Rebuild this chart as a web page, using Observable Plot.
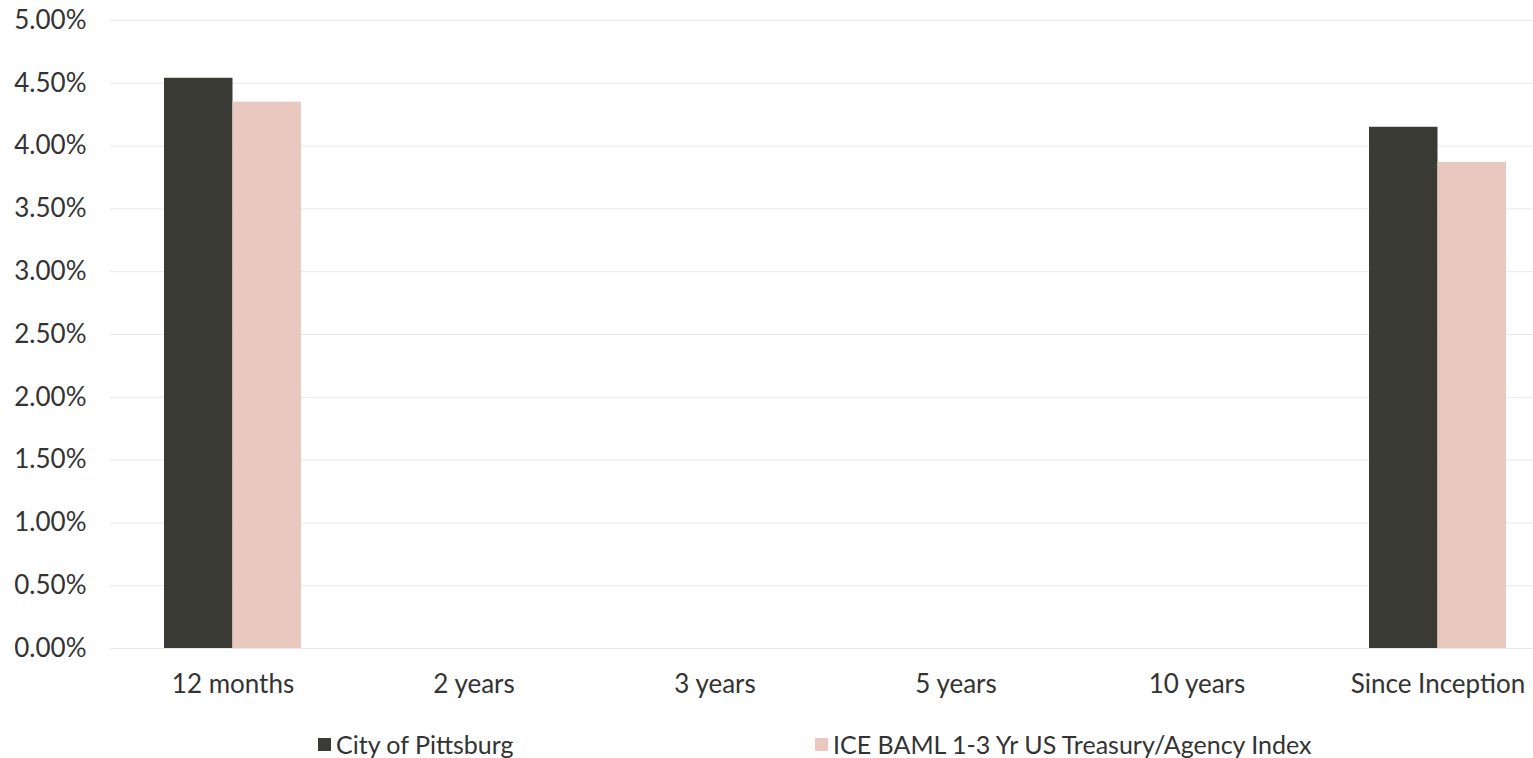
<!DOCTYPE html>
<html>
<head>
<meta charset="utf-8">
<script src="https://cdn.jsdelivr.net/npm/d3@7"></script>
<script src="https://cdn.jsdelivr.net/npm/@observablehq/plot@0.6"></script>
<style>
  html, body { margin: 0; padding: 0; background: #fff; }
  #wrap { width: 1533px; height: 758px; overflow: hidden; position: relative; font-family: Lato, "Noto Sans", sans-serif; }
  #chart { position: absolute; left: 0; top: 0; width: 1560px; }
  #chart svg { max-width: none !important; }
  #legend { position: absolute; top: 729px; left: 0; width: 1533px; font-size: 25px; color: #333; }
  .item { position: absolute; display: flex; align-items: center; white-space: nowrap; }
  .sw { width: 13px; height: 13px; margin-right: 5px; }
</style>
</head>
<body>
<div id="wrap">
  <div id="chart"></div>
  <div id="legend"></div>
</div>
<script>
const categories = ["12 months", "2 years", "3 years", "5 years", "10 years", "Since Inception"];
const seriesNames = ["City of Pittsburg", "ICE BAML 1-3 Yr US Treasury/Agency Index"];
const pittsburg = [4.54, null, null, null, null, 4.15];
const iceBaml = [4.35, null, null, null, null, 3.87];
const yTicks = [0, 0.5, 1, 1.5, 2, 2.5, 3, 3.5, 4, 4.5, 5];
const colors = ["#3b3b36", "#e9c9bf"];

const rows = (vals, s) => categories.map((c, i) => ({category: c, series: s, value: vals[i]})).filter(d => d.value != null);
const dataP = rows(pittsburg, seriesNames[0]);
const dataI = rows(iceBaml, seriesNames[1]);

const half = 68.5;
const chart = Plot.plot({
  width: 1560,
  height: 710,
  marginLeft: 110,
  marginRight: 0,
  marginTop: 20,
  marginBottom: 62,
  style: {fontFamily: "Lato, 'Noto Sans', sans-serif", fontSize: "26px", color: "#333", background: "white", maxWidth: "none"},
  x: {domain: categories, paddingInner: 0.433, paddingOuter: 0.2165, label: null},
  y: {domain: [0, 5], label: null},
  marks: [
    Plot.gridY(yTicks, {stroke: "#e8e8e8", strokeOpacity: 1}),
    Plot.axisY(yTicks, {tickSize: 0, tickPadding: 24, tickFormat: d => d.toFixed(2) + "%", fontSize: 26}),
    Plot.axisX({tickSize: 0, tickPadding: 26, fontSize: 26}),
    Plot.barY(dataP, {x: "category", y: "value", fill: colors[0], insetRight: half}),
    Plot.barY(dataI, {x: "category", y: "value", fill: colors[1], insetLeft: half})
  ]
});
document.getElementById("chart").appendChild(chart);

const legend = document.getElementById("legend");
const positions = [318, 815];
seriesNames.forEach((name, i) => {
  const it = document.createElement("div");
  it.className = "item";
  it.style.left = positions[i] + "px";
  const sw = document.createElement("span");
  sw.className = "sw";
  sw.style.background = colors[i];
  const tx = document.createElement("span");
  tx.textContent = name;
  it.appendChild(sw);
  it.appendChild(tx);
  legend.appendChild(it);
});
</script>
</body>
</html>
